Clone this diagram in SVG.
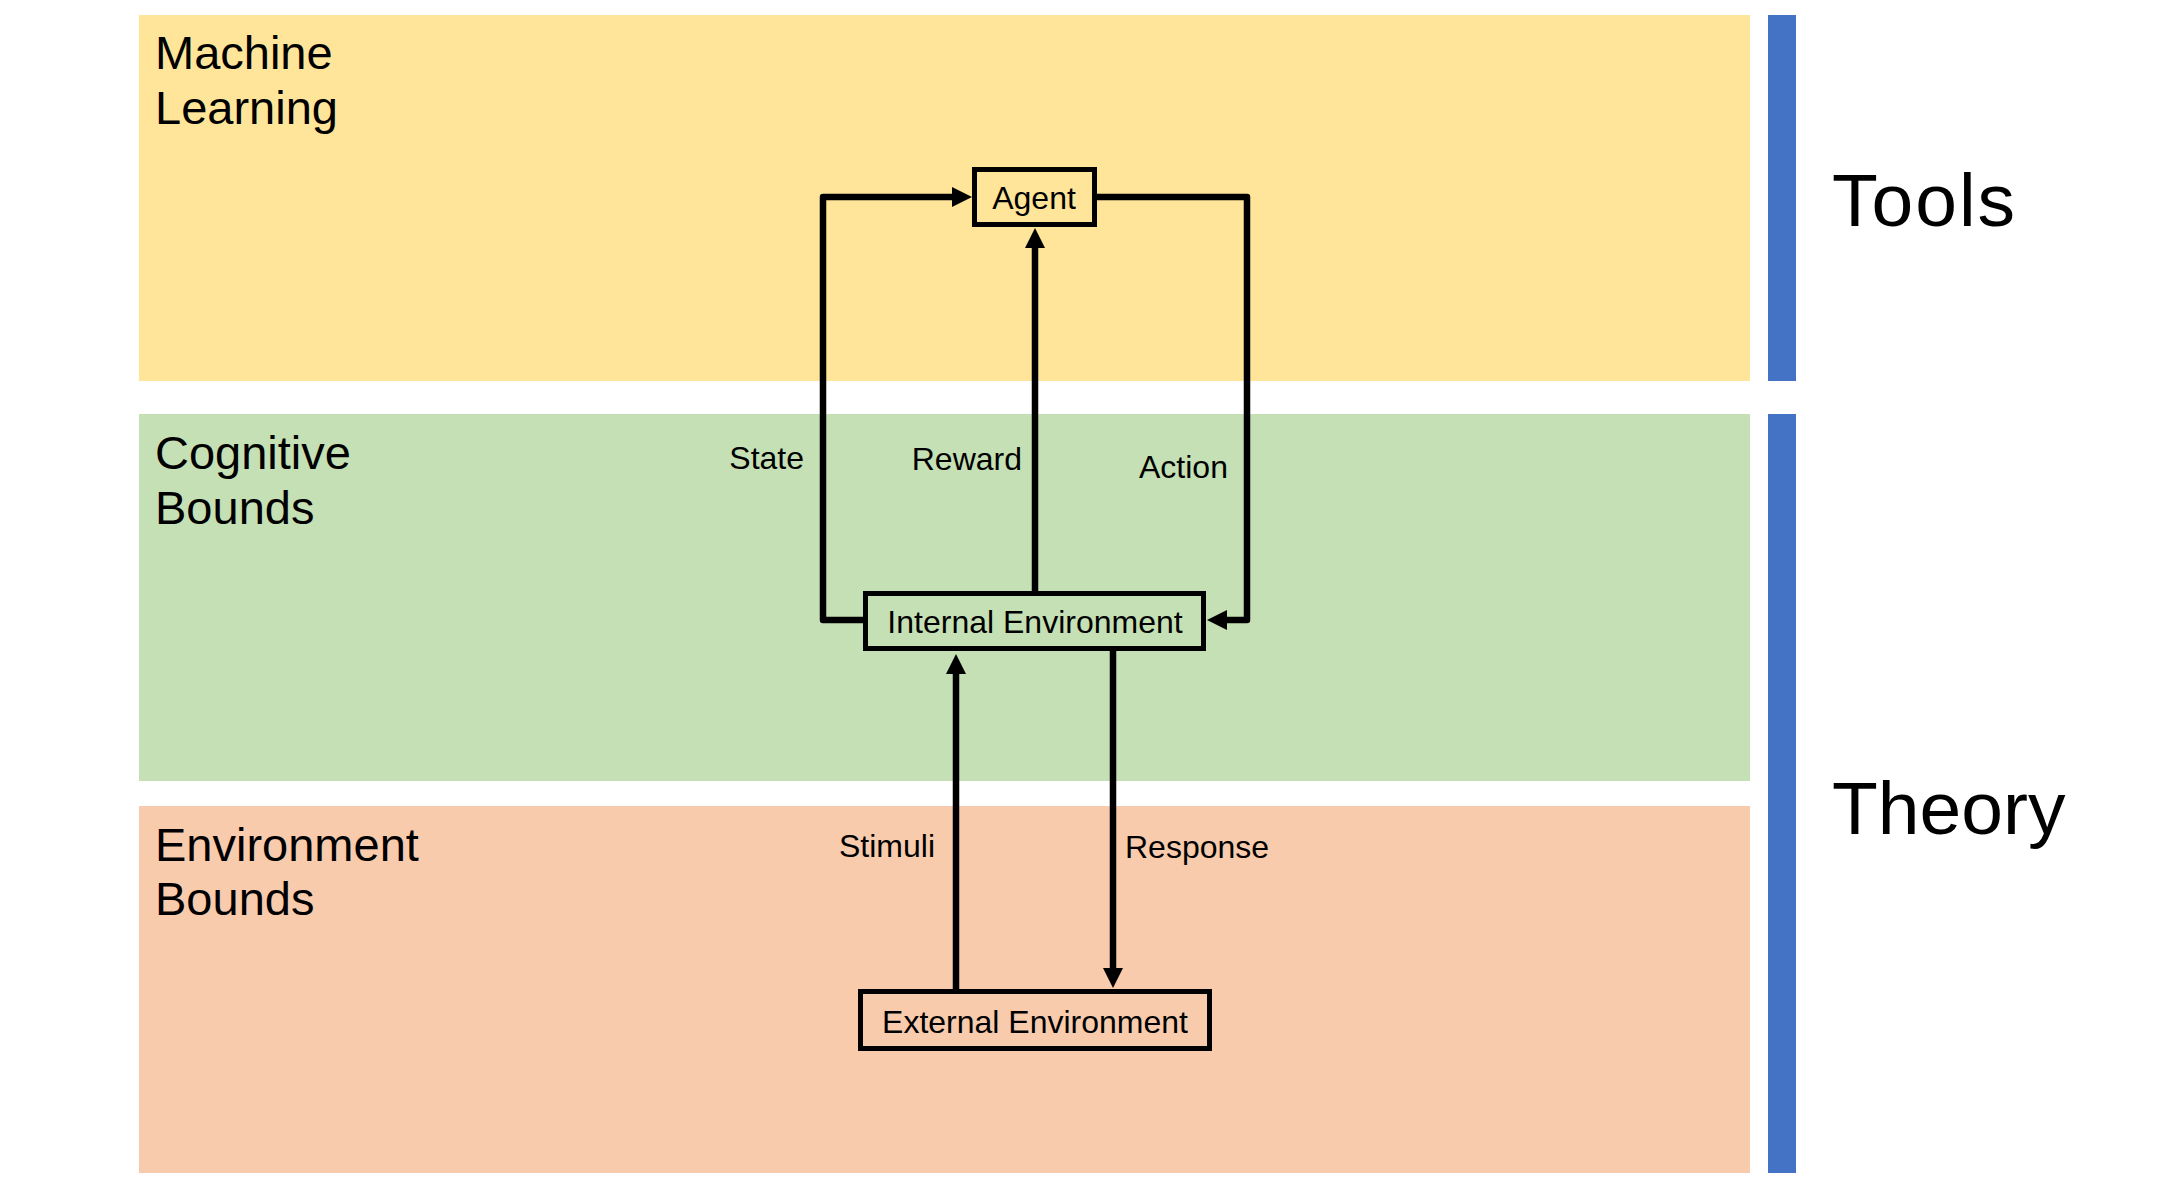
<svg xmlns="http://www.w3.org/2000/svg" width="2164" height="1194" viewBox="0 0 2164 1194">
<style>
.band-label{font-family:"Liberation Sans",Arial,sans-serif;font-size:47px;fill:#000}
.side-label{font-family:"Liberation Sans",Arial,sans-serif;font-size:75px;fill:#000}
.node-text{font-family:"Liberation Sans",Arial,sans-serif;font-size:32px;fill:#000;text-anchor:middle}
.edge-label{font-family:"Liberation Sans",Arial,sans-serif;font-size:32px;fill:#000}
.box{stroke:#000;stroke-width:5}
.conn{fill:none;stroke:#000;stroke-width:6.5;stroke-linejoin:round}
</style>
<defs>
<marker id="arrow" markerUnits="userSpaceOnUse" markerWidth="21" markerHeight="21" refX="1" refY="10" orient="auto">
<path d="M0,0 L20,10 L0,20 Z" fill="#000"/>
</marker>
</defs>
<rect width="2164" height="1194" fill="#fff"/>
<g id="bands">
<rect x="139" y="15" width="1611" height="366" fill="#FFE599"/>
<rect x="139" y="414" width="1611" height="367" fill="#C5E0B4"/>
<rect x="139" y="806" width="1611" height="367" fill="#F8CBAD"/>
<rect x="1768" y="15" width="28" height="366" fill="#4472C4"/>
<rect x="1768" y="414" width="28" height="759" fill="#4472C4"/>
</g>
<g id="band-labels">
<text class="band-label" x="155" y="69">Machine</text>
<text class="band-label" x="155" y="124">Learning</text>
<text class="band-label" x="155" y="469">Cognitive</text>
<text class="band-label" x="155" y="524">Bounds</text>
<text class="band-label" x="155" y="861">Environment</text>
<text class="band-label" x="155" y="915">Bounds</text>
<text class="side-label" x="1832" y="226" letter-spacing="2">Tools</text>
<text class="side-label" x="1832" y="834">Theory</text>
</g>
<g id="connectors">
<path class="conn" d="M865,620 H823 V197 H953" marker-end="url(#arrow)"/>
<path class="conn" d="M1035,593 V247" marker-end="url(#arrow)"/>
<path class="conn" d="M1097,197 H1247 V620 H1226" marker-end="url(#arrow)"/>
<path class="conn" d="M956,991 V673" marker-end="url(#arrow)"/>
<path class="conn" d="M1113,651 V969" marker-end="url(#arrow)"/>
<text class="edge-label" x="804" y="469" text-anchor="end">State</text>
<text class="edge-label" x="1022" y="470" text-anchor="end">Reward</text>
<text class="edge-label" x="1139" y="478">Action</text>
<text class="edge-label" x="935" y="857" text-anchor="end">Stimuli</text>
<text class="edge-label" x="1125" y="858">Response</text>
</g>
<g id="agent">
<rect class="box" x="974.5" y="169.5" width="120" height="55" fill="#FFE599"/>
<text class="node-text" x="1034" y="209">Agent</text>
</g>
<g id="internal-environment">
<rect class="box" x="865.5" y="593.5" width="338" height="55" fill="#C5E0B4"/>
<text class="node-text" x="1035" y="633">Internal Environment</text>
</g>
<g id="external-environment">
<rect class="box" x="860.5" y="991.5" width="349" height="57" fill="#F8CBAD"/>
<text class="node-text" x="1035" y="1033">External Environment</text>
</g>
</svg>
